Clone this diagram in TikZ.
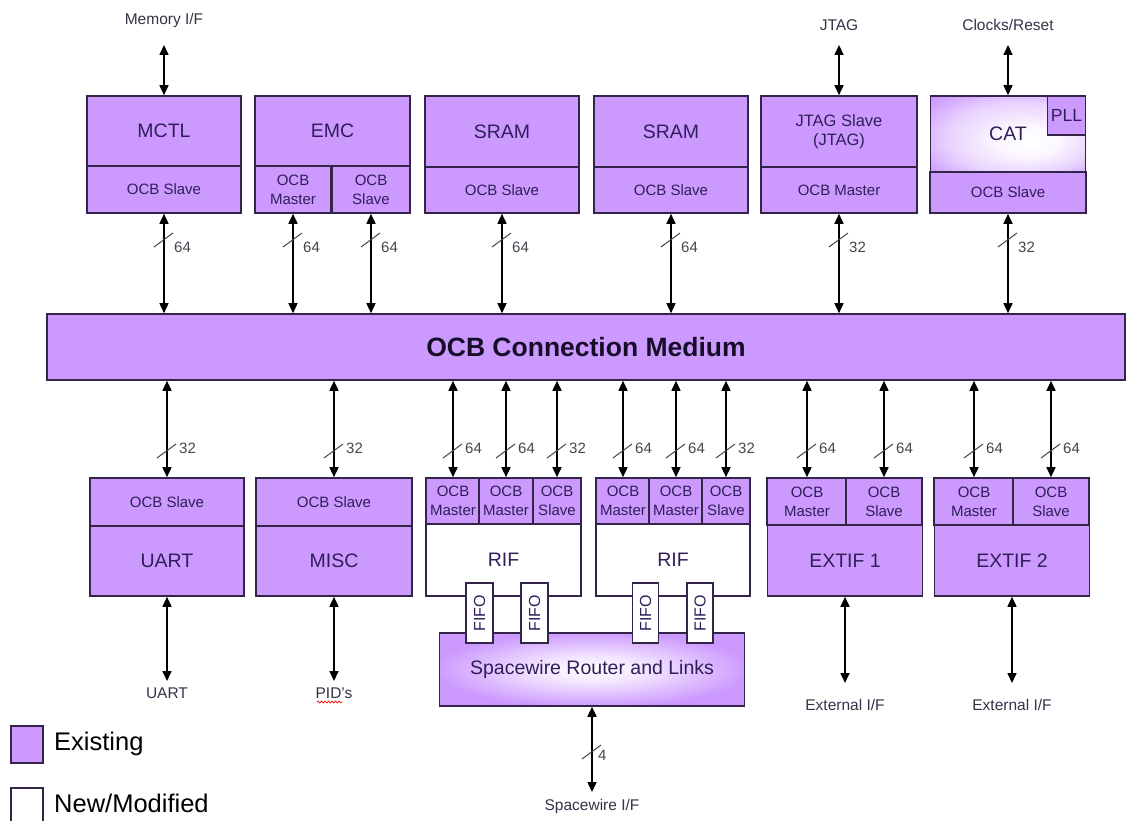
\documentclass[tikz,border=0pt]{standalone}
\usepackage{fontspec}
\setmainfont{Liberation Sans}
\usetikzlibrary{arrows.meta,decorations.pathmorphing}
\definecolor{pfill}{RGB}{204,153,255}
\definecolor{edge}{RGB}{52,36,72}
\definecolor{txt}{RGB}{48,30,90}
\definecolor{bustxt}{RGB}{22,14,40}
\definecolor{outtxt}{RGB}{55,50,72}
\definecolor{numtxt}{RGB}{70,70,80}
\newcommand{\fsz}[2]{\fontsize{#1}{#2}\selectfont}
\pgfdeclareradialshading{glow}{\pgfpoint{0bp}{0bp}}{color(0bp)=(white); color(9bp)=(white!75!pfill); color(26bp)=(pfill); color(50bp)=(pfill)}
\pgfdeclareradialshading{catglow}{\pgfpoint{8bp}{-6bp}}{color(0bp)=(white); color(10bp)=(white!92!pfill); color(24bp)=(white!55!pfill); color(36bp)=(pfill); color(50bp)=(pfill)}
\newcommand{\wid}[5]{%
  \draw[slashline] (#1-10,#2+7) -- (#1+9,#2-7);
  \node[numlbl, anchor=west] at (#1+#4,#3) {#5};}
\begin{document}
\begin{tikzpicture}[x=1pt,y=-1pt,
  pbox/.style={draw=edge, line width=1.6pt, fill=pfill, inner sep=0pt, text=txt, align=center},
  wbox/.style={pbox, fill=white},
  mainf/.style={font=\fsz{19.5}{22}},
  subf/.style={font=\fsz{15}{19}},
  conn/.style={line width=1.6pt, draw=black, {Triangle[length=10pt,width=9pt]}-{Triangle[length=10pt,width=9pt]}},
  slashline/.style={line width=1pt, draw=numtxt},
  numlbl/.style={font=\fsz{15}{17}, text=numtxt, inner sep=0pt},
  outl/.style={font=\fsz{15.5}{18}, text=outtxt, inner sep=0pt},
  legl/.style={font=\fsz{25.5}{28}, text=black, inner sep=0pt, anchor=west}
]
\useasboundingbox (0,0) rectangle (1127,821);
\fill[white] (0,0) rectangle (1127,821);

% ---------------- top row ----------------
\node[pbox, mainf, minimum width=154pt, minimum height=70pt] (mctl) at (164,131) {MCTL};
\node[pbox, subf, minimum width=154pt, minimum height=47pt] (mctls) at (164,189.5) {OCB Slave};

\node[pbox, mainf, minimum width=155pt, minimum height=70pt] (emc) at (332.5,131) {EMC};
\node[pbox, subf, minimum width=76pt, minimum height=47pt] (emcm) at (293,189.5) {OCB\\Master};
\node[pbox, subf, minimum width=78pt, minimum height=47pt] (emcs) at (371,189.5) {OCB\\Slave};

\node[pbox, mainf, minimum width=154pt, minimum height=71pt] (sram1) at (502,131.5) {SRAM};
\node[pbox, subf, minimum width=154pt, minimum height=46pt] (sram1s) at (502,190) {OCB Slave};

\node[pbox, mainf, minimum width=154pt, minimum height=71pt] (sram2) at (671,131.5) {SRAM};
\node[pbox, subf, minimum width=154pt, minimum height=46pt] (sram2s) at (671,190) {OCB Slave};

\node[pbox, font=\fsz{16.5}{19}, minimum width=156pt, minimum height=71pt] (jtag) at (839,131.5) {JTAG Slave\\(JTAG)};
\node[pbox, subf, minimum width=156pt, minimum height=46pt] (jtagm) at (839,190) {OCB Master};

\node[pbox, mainf, shade, shading=catglow, minimum width=155pt, minimum height=76pt] (cat) at (1008,134) {CAT};
\node[pbox, font=\fsz{17.5}{19}, minimum width=38pt, minimum height=39pt] (pll) at (1066.5,115.5) {PLL};
\node[pbox, subf, minimum width=156pt, minimum height=41pt] (cats) at (1008,192.5) {OCB Slave};

% external top connectors
\node[outl] (memlbl) at (164,20) {Memory I/F};
\coordinate (memend) at (164,45);
\draw[conn] (memend) -- (mctl.north);
\node[outl] (jtaglbl) at (839,25) {JTAG};
\coordinate (jtagend) at (839,45);
\draw[conn] (jtagend) -- (jtag.north);
\node[outl] (clklbl) at (1008,25) {Clocks/Reset};
\coordinate (clkend) at (1008,45);
\draw[conn] (clkend) -- (cat.north);

% ---------------- bus ----------------
\node[pbox, font=\bfseries\fsz{26.5}{30}, text=bustxt, minimum width=1078pt, minimum height=66pt] (bus) at (586,347) {OCB Connection Medium};

% top connectors to bus
\draw[conn] (mctls.south) -- (mctls.south |- bus.north);
\draw[conn] (emcm.south) -- (emcm.south |- bus.north);
\draw[conn] (emcs.south) -- (emcs.south |- bus.north);
\draw[conn] (sram1s.south) -- (sram1s.south |- bus.north);
\draw[conn] (sram2s.south) -- (sram2s.south |- bus.north);
\draw[conn] (jtagm.south) -- (jtagm.south |- bus.north);
\draw[conn] (cats.south) -- (cats.south |- bus.north);
\wid{164}{240}{247}{10}{64}
\wid{293}{240}{247}{10}{64}
\wid{371}{240}{247}{10}{64}
\wid{502}{240}{247}{10}{64}
\wid{671}{240}{247}{10}{64}
\wid{839}{240}{247}{10}{32}
\wid{1008}{240}{247}{10}{32}

% ---------------- bottom row ----------------
\node[pbox, subf, minimum width=154pt, minimum height=48pt] (uarts) at (167,502) {OCB Slave};
\node[pbox, mainf, minimum width=154pt, minimum height=70pt] (uart) at (167,561) {UART};
\node[pbox, subf, minimum width=156pt, minimum height=48pt] (miscs) at (334,502) {OCB Slave};
\node[pbox, mainf, minimum width=156pt, minimum height=70pt] (misc) at (334,561) {MISC};

\node[wbox, mainf, minimum width=155pt, minimum height=72pt] (rifa) at (503.5,560) {RIF};
\node[pbox, subf, minimum width=54pt, minimum height=46pt] (rifam1) at (453,501) {OCB\\Master};
\node[pbox, subf, minimum width=54pt, minimum height=46pt] (rifam2) at (506,501) {OCB\\Master};
\node[pbox, subf, minimum width=48pt, minimum height=46pt] (rifas) at (557,501) {OCB\\Slave};

\node[wbox, mainf, minimum width=154pt, minimum height=72pt] (rifb) at (673,560) {RIF};
\node[pbox, subf, minimum width=54pt, minimum height=46pt] (rifbm1) at (623,501) {OCB\\Master};
\node[pbox, subf, minimum width=54pt, minimum height=46pt] (rifbm2) at (676,501) {OCB\\Master};
\node[pbox, subf, minimum width=48pt, minimum height=46pt] (rifbs) at (726,501) {OCB\\Slave};

\node[pbox, mainf, shade, shading=glow, minimum width=305pt, minimum height=73pt] (swr) at (592,669.5) {Spacewire Router and Links};
\node[wbox, font=\fsz{16}{18}, rotate=90, minimum width=60pt, minimum height=27pt] (fa1) at (479.5,613) {FIFO};
\node[wbox, font=\fsz{16}{18}, rotate=90, minimum width=60pt, minimum height=27pt] (fa2) at (534.5,613) {FIFO};
\node[wbox, font=\fsz{16}{18}, rotate=90, minimum width=60pt, minimum height=26pt] (fb1) at (645.5,613) {FIFO};
\node[wbox, font=\fsz{16}{18}, rotate=90, minimum width=60pt, minimum height=26pt] (fb2) at (700,613) {FIFO};

\node[pbox, subf, minimum width=80pt, minimum height=47pt] (e1m) at (807,501.5) {OCB\\Master};
\node[pbox, subf, minimum width=76pt, minimum height=47pt] (e1s) at (884,501.5) {OCB\\Slave};
\node[pbox, mainf, minimum width=155pt, minimum height=71pt] (e1) at (845,560.5) {EXTIF 1};
\node[pbox, subf, minimum width=80pt, minimum height=47pt] (e2m) at (974,501.5) {OCB\\Master};
\node[pbox, subf, minimum width=76pt, minimum height=47pt] (e2s) at (1051,501.5) {OCB\\Slave};
\node[pbox, mainf, minimum width=155pt, minimum height=71pt] (e2) at (1012,560.5) {EXTIF 2};

% bus to bottom row
\draw[conn] (bus.south -| uarts.north) -- (uarts.north);
\draw[conn] (bus.south -| miscs.north) -- (miscs.north);
\draw[conn] (bus.south -| rifam1.north) -- (rifam1.north);
\draw[conn] (bus.south -| rifam2.north) -- (rifam2.north);
\draw[conn] (bus.south -| rifas.north) -- (rifas.north);
\draw[conn] (bus.south -| rifbm1.north) -- (rifbm1.north);
\draw[conn] (bus.south -| rifbm2.north) -- (rifbm2.north);
\draw[conn] (bus.south -| rifbs.north) -- (rifbs.north);
\draw[conn] (bus.south -| e1m.north) -- (e1m.north);
\draw[conn] (bus.south -| e1s.north) -- (e1s.north);
\draw[conn] (bus.south -| e2m.north) -- (e2m.north);
\draw[conn] (bus.south -| e2s.north) -- (e2s.north);
\wid{167}{451}{448}{12}{32}
\wid{334}{451}{448}{12}{32}
\wid{453}{451}{448}{12}{64}
\wid{506}{451}{448}{12}{64}
\wid{557}{451}{448}{12}{32}
\wid{623}{451}{448}{12}{64}
\wid{676}{451}{448}{12}{64}
\wid{726}{451}{448}{12}{32}
\wid{807}{451}{448}{12}{64}
\wid{884}{451}{448}{12}{64}
\wid{974}{451}{448}{12}{64}
\wid{1051}{451}{448}{12}{64}

% bottom external connectors
\coordinate (uartend) at (167,681);
\draw[conn] (uart.south) -- (uartend);
\node[outl] (uartlbl) at (167,693) {UART};
\coordinate (pidend) at (334,681);
\draw[conn] (misc.south) -- (pidend);
\node[outl] (pidlbl) at (334,693) {PID's};
\draw[red, line width=0.7pt, decorate, decoration={snake, amplitude=1pt, segment length=3.5pt}] (317,702) -- (342,702);
\coordinate (swend) at (592,792);
\draw[conn] (swr.south) -- (swend);
\wid{592}{752}{755}{6}{4}
\node[outl] (swlbl) at (592,806) {Spacewire I/F};
\coordinate (e1end) at (845,683);
\draw[conn] (e1.south) -- (e1end);
\node[outl] (e1lbl) at (845,705) {External I/F};
\coordinate (e2end) at (1012,683);
\draw[conn] (e2.south) -- (e2end);
\node[outl] (e2lbl) at (1012,705) {External I/F};

% legend
\node[pbox, minimum width=32pt, minimum height=37pt] (legexist) at (27,744.5) {};
\node[legl] (legexistt) at (54,744) {Existing};
\node[wbox, minimum width=32pt, minimum height=44pt] (legnew) at (27,810) {};
\node[legl] (legnewt) at (54,803) {New/Modified};
\end{tikzpicture}
\end{document}
